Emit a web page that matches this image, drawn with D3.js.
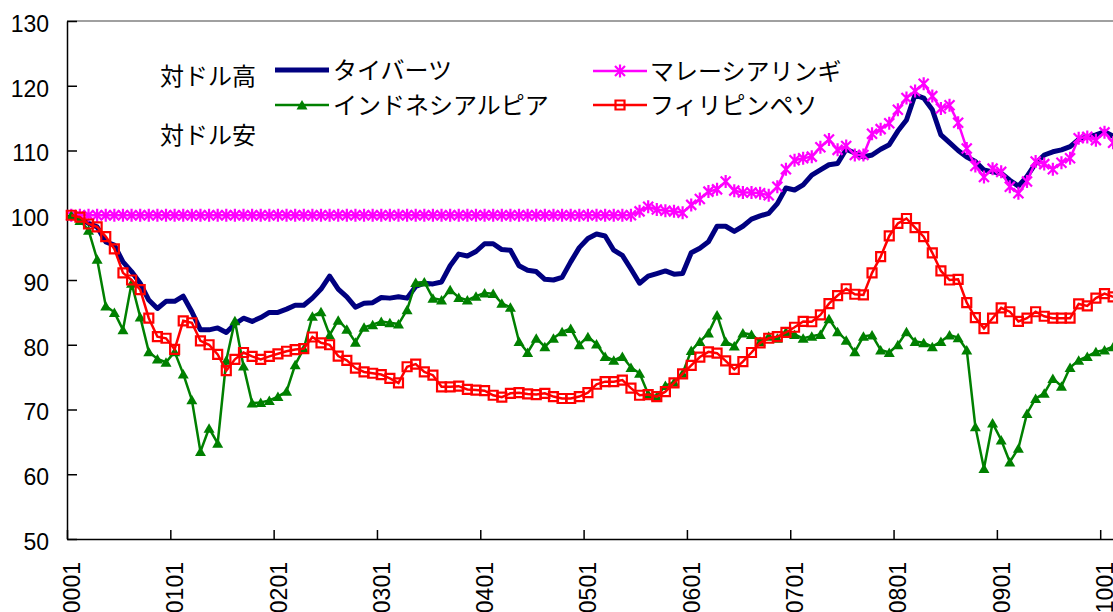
<!DOCTYPE html>
<html>
<head>
<meta charset="utf-8">
<script src="https://cdn.jsdelivr.net/npm/d3@7"></script>
<style>
  body { margin: 0; background: #fff; }
  .axis text { font-family: "Liberation Sans", Arial, sans-serif; font-size: 23px; fill: #000; }
  .jp { font-family: "Noto Sans CJK JP", sans-serif; font-size: 24px; fill: #000; }
</style>
</head>
<body>
<script>
// monthly index, 2000/01 = 100
const tickLabels = ["0001","0101","0201","0301","0401","0501","0601","0701","0801","0901","1001"];

const thb = [100,99.5,98.75,98.2,95.9,95.4,92.8,91.3,89.5,86.9,
  85.6,86.7,86.7,87.5,85.1,82.3,82.3,82.6,81.9,83.2,
  84.1,83.6,84.2,85.0,85.0,85.5,86.1,86.1,87.2,88.6,
  90.6,88.6,87.4,85.8,86.4,86.5,87.3,87.2,87.4,87.2,
  89.0,89.5,89.4,89.7,92.2,94.0,93.7,94.4,95.6,95.6,
  94.7,94.6,92.2,91.5,91.3,90.1,90.0,90.4,92.8,95.0,
  96.4,97.1,96.8,94.6,93.8,91.7,89.5,90.6,91.0,91.4,
  90.9,91.0,94.2,94.9,95.9,98.3,98.3,97.5,98.3,99.4,
  99.9,100.3,101.8,104.2,103.9,104.7,106.2,107.0,107.8,108.0,
  110.2,109.6,109.0,109.3,110.2,110.9,113.0,114.7,118.6,118.1,
  116.3,112.4,111.2,110.0,109.0,108.3,107.0,106.7,106.5,105.4,
  104.5,106.0,108.0,109.3,109.8,110.1,110.6,111.7,112.1,112.4,
  112.9,112.2];

const myr = [100,100,100,100,100,100,100,100,100,100,
  100,100,100,100,100,100,100,100,100,100,
  100,100,100,100,100,100,100,100,100,100,
  100,100,100,100,100,100,100,100,100,100,
  100,100,100,100,100,100,100,100,100,100,
  100,100,100,100,100,100,100,100,100,100,
  100,100,100,100,100,100,100.6,101.3,100.9,100.7,
  100.6,100.4,101.6,102.5,103.65,104.0,105.2,103.8,103.5,103.5,
  103.4,103.1,104.4,107.1,108.5,108.8,109.05,110.5,111.7,110.1,
  110.7,109.3,109.3,112.6,113.3,114.2,116.3,118.1,119.2,120.3,
  118.4,116.5,117.0,114.3,110.3,107.6,105.9,107.2,106.7,104.4,
  103.4,105.2,108.3,107.9,107.1,108.1,108.8,111.9,112.1,111.6,
  112.8,111.2];

const idr = [100,99.2,97.7,93.2,86.0,85.0,82.3,89.5,84.3,78.9,
  77.8,77.3,78.9,75.5,71.5,63.5,67.1,64.8,77.6,83.7,
  76.7,71.0,71.1,71.4,72.0,72.8,76.9,79.4,84.4,85.1,
  81.5,83.8,82.4,80.4,82.7,83.1,83.6,83.4,83.2,85.4,
  89.6,89.7,87.2,86.9,88.5,87.3,86.9,87.5,88.0,87.9,
  86.4,85.8,80.5,78.8,81.0,79.7,81.0,82.0,82.5,80.0,
  81.25,80.1,78.2,77.6,78.2,76.5,75.6,72.4,72.0,73.7,
  74.2,75.6,79.1,80.5,81.8,84.6,80.5,79.8,81.8,81.6,
  80.5,81.3,81.0,82.0,81.6,81.0,81.3,81.6,84.0,82.0,
  80.7,78.9,81.3,81.5,79.2,78.8,80.0,82.0,80.5,80.3,
  79.7,80.5,81.5,81.1,79.2,67.35,60.9,67.9,65.3,61.9,
  64.0,69.4,71.7,72.5,74.8,73.6,76.5,77.6,78.2,78.9,
  79.2,79.7];

const php = [100,99.7,98.65,98.2,96.7,94.8,91.1,90.0,88.5,84.1,
  81.25,81.0,79.3,83.7,83.4,80.6,80.0,78.5,76.0,77.75,
  78.8,78.2,77.75,78.2,78.6,79.0,79.25,79.4,81.2,80.3,
  80.0,78.25,77.6,76.4,75.8,75.6,75.4,74.8,74.1,76.6,
  77.0,75.8,75.3,73.5,73.5,73.6,73.1,73.0,72.9,72.2,
  71.9,72.5,72.6,72.4,72.3,72.5,72.0,71.7,71.7,72.0,
  72.6,73.9,74.3,74.3,74.55,73.3,72.2,72.3,72.0,72.75,
  74.1,75.5,76.8,78.1,78.9,78.7,77.5,76.2,77.4,78.8,
  80.3,81.0,81.25,81.9,82.7,83.6,83.55,84.6,86.35,87.6,
  88.65,87.8,87.7,91.1,93.6,96.8,98.75,99.5,98.1,96.7,
  94.2,91.4,90.0,90.1,86.5,84.2,82.5,84.1,85.7,85.1,
  83.6,84.1,85.1,84.4,84.1,84.1,84.1,86.3,86.0,87.2,
  87.9,87.4];

const names = ["タイバーツ", "マレーシアリンギ", "インドネシアルピア", "フィリピンペソ"];

const W = 1113, H = 612;
const plotLeft = 67, plotTop = 21, plotBottom = 539, step = 8.61;
const n = thb.length;

const svg = d3.select("body").append("svg")
  .attr("width", W).attr("height", H);

const x = d3.scaleLinear().domain([0, n]).range([plotLeft, plotLeft + n * step]);
const y = d3.scaleLinear().domain([50, 130]).range([plotBottom, plotTop]);

// frame
svg.append("line").attr("x1", plotLeft).attr("x2", x(n)).attr("y1", plotTop).attr("y2", plotTop)
  .attr("stroke", "#808080").attr("stroke-width", 1.5);
svg.append("line").attr("x1", x(n)).attr("x2", x(n)).attr("y1", plotTop).attr("y2", plotBottom)
  .attr("stroke", "#808080").attr("stroke-width", 1.5);

// y axis
const yAxis = svg.append("g").attr("class", "axis")
  .attr("transform", "translate(" + plotLeft + ",0)")
  .call(d3.axisLeft(y).tickValues(d3.range(50, 131, 10)).tickSize(-10).tickSizeOuter(0).tickPadding(18));
yAxis.selectAll("line,path").attr("stroke", "#000").attr("stroke-width", 1.5);
yAxis.selectAll("text").attr("dy", "0.45em");

// x axis
const xAxis = svg.append("g").attr("class", "axis")
  .attr("transform", "translate(0," + plotBottom + ")")
  .call(d3.axisBottom(x).tickValues(d3.range(0, n, 12)).tickSize(-9).tickSizeOuter(0)
    .tickFormat(function(d, i) { return tickLabels[i]; }));
xAxis.selectAll("line,path").attr("stroke", "#000").attr("stroke-width", 1.5);
xAxis.selectAll("text")
  .attr("x", 0).attr("y", 0).attr("dy", "0.35em")
  .attr("text-anchor", "end")
  .attr("transform", "translate(" + (step / 2) + ",23) rotate(-90)");

const line = d3.line().x(function(d, i) { return x(i + 0.5); }).y(function(d) { return y(d); });

const starPath = "M0,-6.5L0,6.5M-5,-5L5,5M-5,5L5,-5";
const triPath = "M0,-5L5.5,4.5L-5.5,4.5Z";
const sqPath = "M-4.5,-4.5H4.5V4.5H-4.5Z";

// タイバーツ
svg.append("path").datum(thb).attr("d", line)
  .attr("fill", "none").attr("stroke", "#000080").attr("stroke-width", 5)
  .attr("stroke-linejoin", "round");

// マレーシアリンギ
svg.append("path").datum(myr).attr("d", line)
  .attr("fill", "none").attr("stroke", "#ff00ff").attr("stroke-width", 2.5);
svg.append("g").selectAll("path").data(myr).enter().append("path")
  .attr("transform", function(d, i) { return "translate(" + x(i + 0.5) + "," + y(d) + ")"; })
  .attr("d", starPath).attr("fill", "none").attr("stroke", "#ff00ff").attr("stroke-width", 2.2);

// インドネシアルピア
svg.append("path").datum(idr).attr("d", line)
  .attr("fill", "none").attr("stroke", "#008000").attr("stroke-width", 2.5);
svg.append("g").selectAll("path").data(idr).enter().append("path")
  .attr("transform", function(d, i) { return "translate(" + x(i + 0.5) + "," + y(d) + ")"; })
  .attr("d", triPath).attr("fill", "#008000");

// フィリピンペソ
svg.append("path").datum(php).attr("d", line)
  .attr("fill", "none").attr("stroke", "#ff0000").attr("stroke-width", 2.5);
svg.append("g").selectAll("path").data(php).enter().append("path")
  .attr("transform", function(d, i) { return "translate(" + x(i + 0.5) + "," + y(d) + ")"; })
  .attr("d", sqPath).attr("fill", "none").attr("stroke", "#ff0000").attr("stroke-width", 2.2);

// legend
svg.append("text").attr("class", "jp").attr("x", 160).attr("y", 76).attr("dy", "0.36em").text("対ドル高");
svg.append("text").attr("class", "jp").attr("x", 160).attr("y", 135).attr("dy", "0.36em").text("対ドル安");

const legendItems = [
  {name: names[0], color: "#000080", w: 5, mark: null, lx: 275, ly: 70},
  {name: names[1], color: "#ff00ff", w: 2.5, mark: starPath, lx: 593, ly: 71},
  {name: names[2], color: "#008000", w: 2.5, mark: triPath, lx: 275, ly: 105},
  {name: names[3], color: "#ff0000", w: 2.5, mark: sqPath, lx: 593, ly: 105}
];
const leg = svg.append("g").selectAll("g").data(legendItems).enter().append("g")
  .attr("transform", function(d) { return "translate(" + d.lx + "," + d.ly + ")"; });
leg.append("line").attr("x1", 0).attr("x2", 54).attr("y1", 0).attr("y2", 0)
  .attr("stroke", function(d) { return d.color; }).attr("stroke-width", function(d) { return d.w; });
leg.filter(function(d) { return d.mark; }).append("path")
  .attr("transform", "translate(27,0)")
  .attr("d", function(d) { return d.mark; })
  .attr("fill", function(d) { return d.mark === triPath ? d.color : "none"; })
  .attr("stroke", function(d) { return d.mark === triPath ? "none" : d.color; })
  .attr("stroke-width", 2.2);
leg.append("text").attr("class", "jp")
  .attr("x", function(d) { return d.lx === 275 ? 58 : 57; })
  .attr("y", 0).attr("dy", "0.36em")
  .text(function(d) { return d.name; });
</script>
</body>
</html>
